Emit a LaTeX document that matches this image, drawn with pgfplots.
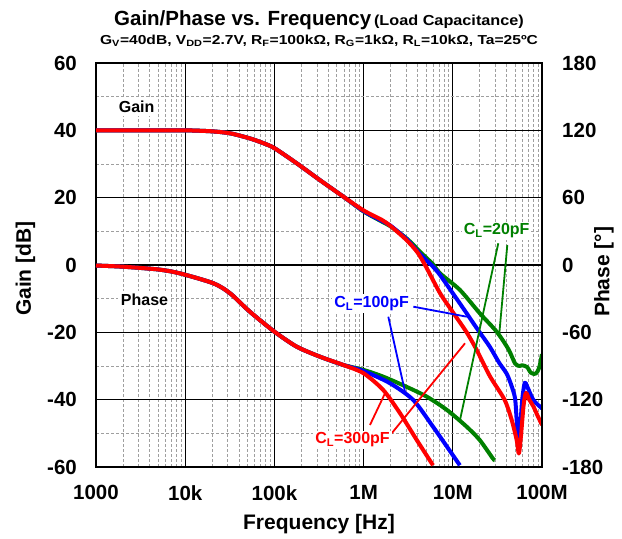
\documentclass[border=0pt]{standalone}
\usepackage{pgfplots}
\pgfplotsset{compat=1.18}
\usepackage{graphicx}
\usepackage{fontspec}
\setmainfont{Liberation Sans}
\definecolor{cred}{RGB}{255,0,0}
\definecolor{cblue}{RGB}{0,0,255}
\definecolor{cgreen}{RGB}{0,128,0}
\begin{document}
\begin{tikzpicture}
\begin{axis}[
  scale only axis, width=446pt, height=404pt,
  xmode=log, xmin=1000, xmax=1e8,
  major tick length=0pt, minor tick length=0pt,
  axis line style={line width=2pt, black},
  tick label style={font=\fontsize{20.5}{22}\selectfont\bfseries},
  ymin=-60, ymax=60, ytick={-60,-40,-20,0,20,40,60},
  minor ytick={-50,-30,-10,10,30,50},
  xtick={1e3,1e4,1e5,1e6,1e7,1e8},
  xticklabels={1000,10k,100k,1M,10M,100M},
  minor xtick={2e3,3e3,4e3,5e3,6e3,7e3,8e3,9e3,2e4,3e4,4e4,5e4,6e4,7e4,8e4,9e4,2e5,3e5,4e5,5e5,6e5,7e5,8e5,9e5,2e6,3e6,4e6,5e6,6e6,7e6,8e6,9e6,2e7,3e7,4e7,5e7,6e7,7e7,8e7,9e7},
  grid=both,
  major grid style={black, line width=1.1pt},
  minor grid style={gray!75, densely dashed, line width=0.6pt},
  xticklabel style={anchor=north, inner sep=0pt, yshift=-18pt},
  yticklabel style={anchor=east, inner sep=0pt, xshift=-19pt},
  /pgf/number format/assume math mode=true,
]
\addplot[cgreen, line width=4pt, line join=round, smooth, tension=0.45] coordinates {
(1000,40) (2000,40) (5000,40) (10000,40) (20000,39.7) (32000,39.1) (53000,37.6) (75000,36.2) (100000,34.7) (178000,30.2) (324000,25.2) (593000,20.3) (1000000,15.9) (1600000,12.9) (2000000,11.5) (3000000,8.0) (3600000,6.0) (4500000,3.4) (6000000,0.2) (7200000,-2.5) (12000000,-7.4) (20000000,-14.3) (31000000,-19.8) (42000000,-25) (50000000,-29.3) (56000000,-30) (60000000,-29.8) (68000000,-30.3) (75000000,-32) (85000000,-32.3) (93000000,-30.5) (100000000,-26.5)
};
\addplot[cblue, line width=4pt, line join=round, smooth, tension=0.45] coordinates {
(1000,40) (2000,40) (5000,40) (10000,40) (20000,39.7) (32000,39.1) (53000,37.6) (75000,36.2) (100000,34.7) (178000,30.2) (324000,25.2) (593000,20.3) (1000000,16.0) (1600000,13.1) (2000000,11.7) (3000000,7.8) (3600000,5.5) (4500000,2.7) (6000000,-0.5) (7200000,-3) (10000000,-8.4) (14000000,-14) (17000000,-17.3) (20000000,-20) (26000000,-24.3) (33000000,-29) (40000000,-32.2) (45000000,-35.5) (49800000,-39.5) (52000000,-46) (54000000,-52) (55500000,-54.5) (57500000,-47) (60000000,-40) (64000000,-35) (68000000,-36) (80000000,-40.1) (100000000,-42.6)
};
\addplot[cred, line width=4pt, line join=round, smooth, tension=0.45] coordinates {
(1000,40) (2000,40) (5000,40) (10000,40) (20000,39.7) (32000,39.1) (53000,37.6) (75000,36.2) (100000,34.7) (178000,30.2) (324000,25.2) (593000,20.3) (1000000,16.2) (1600000,13.4) (2000000,11.6) (3000000,7.5) (4000000,3.8) (5000000,-0.5) (7200000,-8.4) (10000000,-14) (14300000,-20) (18500000,-25.2) (26000000,-33) (38000000,-40) (45700000,-46) (52000000,-52) (55000000,-56) (58000000,-51) (62000000,-42) (66000000,-38) (72000000,-40) (80000000,-42) (90000000,-45) (100000000,-47.5)
};
\end{axis}
\begin{axis}[
  scale only axis, width=446pt, height=404pt,
  xmode=log, xmin=1000, xmax=1e8,
  major tick length=0pt, minor tick length=0pt,
  axis line style={line width=2pt, black},
  tick label style={font=\fontsize{20.5}{22}\selectfont\bfseries},
  axis x line=none, axis y line*=right,
  ymin=-180, ymax=180, ytick={-180,-120,-60,0,60,120,180},
  yticklabel style={anchor=west, inner sep=0pt, xshift=20pt},
  /pgf/number format/assume math mode=true,
  clip=false,
]
\addplot[cgreen, line width=4pt, line join=round, smooth, tension=0.45] coordinates {
(1000,-0.5) (2000,-1.5) (5000,-4) (8750,-7.5) (20700,-16.3) (31800,-25.2) (53000,-41.6) (100000,-59.4) (178000,-72.8) (324000,-81.7) (593000,-89.1) (1000000,-93.5) (1660000,-99.5) (3000000,-108.4) (5100000,-117.3) (8600000,-129.2) (14300000,-144.1) (20000000,-155.9) (28000000,-172.2) (29500000,-174)
};
\addplot[cblue, line width=4pt, line join=round, smooth, tension=0.45] coordinates {
(1000,-0.5) (2000,-1.5) (5000,-4) (8750,-7.5) (20700,-16.3) (31800,-25.2) (53000,-41.6) (100000,-59.4) (178000,-72.8) (324000,-81.7) (593000,-89.1) (1000000,-94.5) (1980000,-105.4) (3600000,-120.3) (6000000,-144.1) (8600000,-161.9) (12000000,-178.5)
};
\addplot[cred, line width=4pt, line join=round, smooth, tension=0.45] coordinates {
(1000,-0.5) (2000,-1.5) (5000,-4) (8750,-7.5) (20700,-16.3) (31800,-25.2) (53000,-41.6) (100000,-59.4) (178000,-72.8) (324000,-81.7) (593000,-89.1) (1000000,-96.5) (1660000,-111.4) (2560000,-132.1) (3940000,-155.9) (6000000,-178.5)
};
\draw[cgreen, line width=1.8pt] (rel axis cs:0.9020,0.5537) -- (rel axis cs:0.8161,0.1163);
\draw[cgreen, line width=1.8pt] (rel axis cs:0.9222,0.5495) -- (rel axis cs:0.9043,0.3309);
\draw[cblue, line width=1.8pt] (rel axis cs:0.7115,0.3968) -- (rel axis cs:0.8312,0.3720);
\draw[cblue, line width=1.8pt] (rel axis cs:0.6554,0.3720) -- (rel axis cs:0.6928,0.1864);
\draw[cred, line width=1.8pt] (rel axis cs:0.6143,0.1040) -- (rel axis cs:0.6480,0.1824);
\draw[cred, line width=1.8pt] (rel axis cs:0.6630,0.0834) -- (rel axis cs:0.8274,0.3062);
\node[fill=white, inner sep=3pt, font=\fontsize{16}{18}\selectfont\bfseries] at (rel axis cs:0.0912,0.8919) {Gain};
\node[fill=white, inner sep=3pt, font=\fontsize{16}{18}\selectfont\bfseries] at (rel axis cs:0.1087,0.4134) {Phase};
\node[fill=white, inner sep=2pt, text=cgreen, font=\fontsize{16}{18}\selectfont\bfseries] at (rel axis cs:0.8984,0.5842) {C\textsubscript{L}=20pF};
\node[fill=white, inner sep=2pt, text=cblue, font=\fontsize{16}{18}\selectfont\bfseries] at (rel axis cs:0.6181,0.4047) {C\textsubscript{L}=100pF};
\node[fill=white, inner sep=2pt, text=cred, font=\fontsize{16}{18}\selectfont\bfseries] at (rel axis cs:0.5751,0.0668) {C\textsubscript{L}=300pF};
\node[rotate=90, font=\fontsize{21}{24}\selectfont\bfseries] at (rel axis cs:-0.158,0.491) {Gain [dB]};
\node[rotate=90, font=\fontsize{21}{24}\selectfont\bfseries] at (rel axis cs:1.139,0.483) {Phase [°]};
\node[font=\fontsize{21}{24}\selectfont\bfseries] at (rel axis cs:0.5,-0.141) {Frequency [Hz]};
\node[anchor=base, inner sep=0pt, font=\bfseries] at (rel axis cs:0.5,1.0916) {{\fontsize{20.5}{24}\selectfont Gain/Phase vs. Frequency} \scalebox{1.12}[1]{\fontsize{14.5}{16}\selectfont (Load Capacitance)}};
\node[anchor=base, inner sep=0pt, font=\fontsize{13}{15}\selectfont\bfseries] at (rel axis cs:0.5,1.0463) {\scalebox{1.2}[1]{G\textsubscript{V}=40dB, V\textsubscript{DD}=2.7V, R\textsubscript{F}=100kΩ, R\textsubscript{G}=1kΩ, R\textsubscript{L}=10kΩ, Ta=25ºC}};
\path (rel axis cs:-0.21525,-0.17822) rectangle (rel axis cs:1.17937,1.15594);
\end{axis}
\end{tikzpicture}
\end{document}
